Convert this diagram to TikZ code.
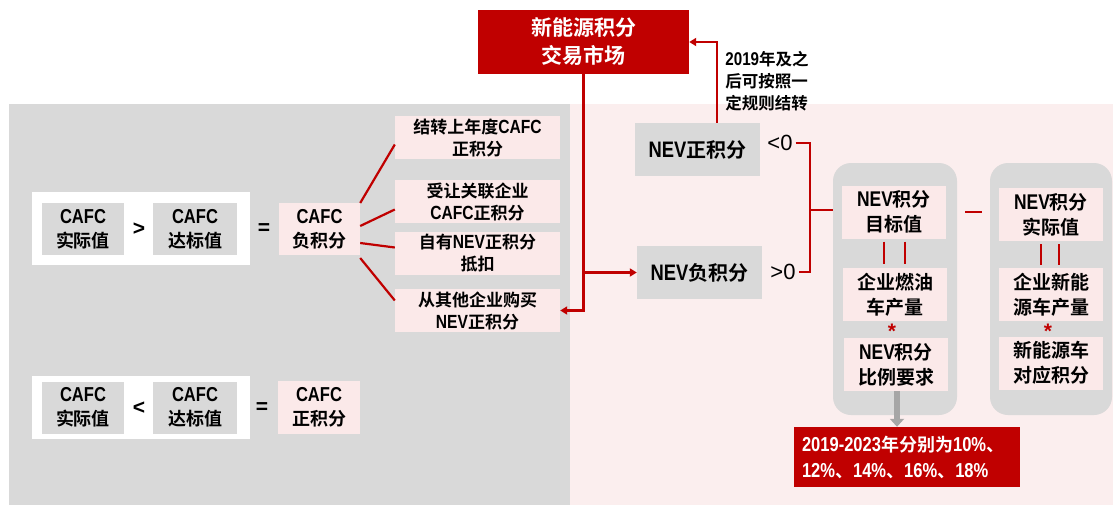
\documentclass[tikz,border=0pt]{standalone}
\usepackage{fontspec}
\setmainfont{Noto Sans CJK SC}[BoldFont={Noto Sans CJK SC Bold}]
\newfontfamily\latf{Liberation Sans Bold}[FakeStretch=0.82,Scale=1.12]
\newfontfamily\latr{Liberation Sans}
\newcommand\lat[1]{{\latf #1}}
\usetikzlibrary{arrows.meta,calc}
\definecolor{myred}{HTML}{C00000}
\definecolor{mygray}{HTML}{D9D9D9}
\definecolor{bgpink}{HTML}{FBEEEE}
\definecolor{boxpink}{HTML}{FBE9E9}
\definecolor{arrgray}{HTML}{A6A6A6}
\begin{document}
\begin{tikzpicture}[x=1pt,y=-1pt,
  base/.style={inner sep=0pt, align=center, font=\fontsize{17}{22}\selectfont\bfseries},
  gbox/.style={base, fill=mygray, font=\fontsize{18}{24}\selectfont\bfseries},
  pbox/.style={base, fill=boxpink},
  wbox/.style={fill=white, inner sep=0pt},
  ibox/.style={base, fill=boxpink, minimum width=104, minimum height=53, font=\fontsize{19}{25}\selectfont\bfseries},
  panel/.style={fill=mygray, rounded corners=18pt, inner sep=0pt},
  sign/.style={inner sep=0pt, font=\latr\fontsize{21}{21}\selectfont\bfseries},
  cmp/.style={inner sep=0pt, font=\latr\fontsize{22}{22}\selectfont},
  redl/.style={draw=myred, line width=2.2pt},
  rarr/.style={redl, -{Triangle[length=7pt,width=8pt]}},
  star/.style={inner sep=0pt, text=myred, font=\latr\fontsize{21}{21}\selectfont\bfseries}
]
\useasboundingbox (0,0) rectangle (1120,506);
% backgrounds
\fill[mygray] (9,104) rectangle (570,505);
\fill[bgpink] (570,104) rectangle (1113,505);

% upper left formula
\node[wbox, minimum width=218, minimum height=73] (w1) at (141,228.5) {};
\node[gbox, minimum width=82, minimum height=52] (a1) at (83,229) {\lat{CAFC}\\实际值};
\node[sign] (s1) at (139,229) {>};
\node[gbox, minimum width=84, minimum height=52] (a2) at (195,229) {\lat{CAFC}\\达标值};
\node[sign] (e1) at (264,229) {=};
\node[pbox, minimum width=81, minimum height=52, font=\fontsize{18}{24}\selectfont\bfseries] (n1) at (319.5,229) {\lat{CAFC}\\负积分};

\node[pbox, minimum width=165, minimum height=43] (b1) at (477.5,137.5) {结转上年度\lat{CAFC}\\正积分};
\node[pbox, minimum width=165, minimum height=43] (b2) at (477.5,201.5) {受让关联企业\\\lat{CAFC}正积分};
\node[pbox, minimum width=165, minimum height=43] (b3) at (477.5,253.5) {自有\lat{NEV}正积分\\抵扣};
\node[pbox, minimum width=165, minimum height=43] (b4) at (477.5,310.5) {从其他企业购买\\\lat{NEV}正积分};

\draw[redl] ([yshift=26]n1.east) -- ([yshift=-7]b1.west);
\draw[redl] ([yshift=3]n1.east) -- ([yshift=-8]b2.west);
\draw[redl] ([yshift=-14]n1.east) -- ([yshift=6]b3.west);
\draw[redl] ([yshift=-29]n1.east) -- ([yshift=10]b4.west);

% lower left formula
\node[wbox, minimum width=218, minimum height=63] (w2) at (141,407.5) {};
\node[gbox, minimum width=82, minimum height=52] (c1) at (83,407.5) {\lat{CAFC}\\实际值};
\node[sign] (s2) at (139,408) {<};
\node[gbox, minimum width=84, minimum height=52] (c2) at (195,407.5) {\lat{CAFC}\\达标值};
\node[sign] (e2) at (262,408) {=};
\node[pbox, minimum width=82, minimum height=53, font=\fontsize{18}{24}\selectfont\bfseries] (n2) at (319,407) {\lat{CAFC}\\正积分};

% market
\node[base, fill=myred, text=white, minimum width=211, minimum height=64, font=\fontsize{21}{28}\selectfont\bfseries] (top) at (583.5,42) {新能源积分\\交易市场};
\node[gbox, minimum width=125, minimum height=53, font=\fontsize{20}{24}\selectfont\bfseries] (npos) at (697.5,149.5) {\lat{NEV}正积分};
\node[gbox, minimum width=125, minimum height=53, font=\fontsize{20}{24}\selectfont\bfseries] (nneg) at (699.5,272.5) {\lat{NEV}负积分};
\node[base, align=left, font=\fontsize{16.5}{22}\selectfont\bfseries] (note) at (767,81) {\lat{2019}年及之\\后可按照一\\定规则结转};

\draw[rarr] (top.south) |- (b4.east);
\draw[rarr] (top.south |- nneg.west) -- (nneg.west);
\draw[rarr] ([xshift=19.5]npos.north) |- (top.east);

\node[cmp] (lt0) at (780,143) {<0};
\node[cmp] (gt0) at (783,272) {>0};
\coordinate (bk) at (810,210);
\draw[redl] ([xshift=3]lt0.east) -- (bk |- lt0.east) -- (bk |- gt0.east) -- ([xshift=3]gt0.east);

% panels
\node[panel, minimum width=124, minimum height=252] (p1) at (895,289) {};
\node[panel, minimum width=122, minimum height=252] (p2) at (1051,289) {};
\node[ibox] (t1) at (894,212) {\lat{NEV}积分\\目标值};
\node[ibox] (t2) at (895,294.5) {企业燃油\\车产量};
\node[ibox] (t3) at (896,364.5) {\lat{NEV}积分\\比例要求};
\node[ibox] (t4) at (1051,214.5) {\lat{NEV}积分\\实际值};
\node[ibox] (t5) at (1051,294.5) {企业新能\\源车产量};
\node[ibox] (t6) at (1051,363) {新能源车\\对应积分};

\draw[redl] (bk) -- (bk -| p1.west);

\draw[redl, shorten <=3pt, shorten >=4pt] ([xshift=-10]t1.south) -- ([xshift=-11]t2.north);
\draw[redl, shorten <=3pt, shorten >=4pt] ([xshift=11]t1.south) -- ([xshift=10]t2.north);
\draw[redl, shorten <=3pt, shorten >=3pt] ([xshift=-10]t4.south) -- ([xshift=-10]t5.north);
\draw[redl, shorten <=3pt, shorten >=3pt] ([xshift=8]t4.south) -- ([xshift=8]t5.north);
\node[star] (st1) at (892,331) {*};
\node[star] (st2) at (1048,331) {*};
\draw[redl, line width=2.6pt, shorten <=8pt, shorten >=8pt] (t1 -| p1.east) -- (t1 -| p2.west);

% result
\node[base, fill=myred, text=white, align=left, minimum width=226, minimum height=60, text width=210, font=\fontsize{18}{26}\selectfont\bfseries] (rb) at (907,457) {\lat{2019-2023}年分别为\lat{10\%}、\\\lat{12\%}、\lat{14\%}、\lat{16\%}、\lat{18\%}};
\draw[draw=arrgray, line width=6pt, -{Triangle[length=8pt,width=14pt]}] ([xshift=1]t3.south) -- ([xshift=-10]rb.north);
\end{tikzpicture}
\end{document}
